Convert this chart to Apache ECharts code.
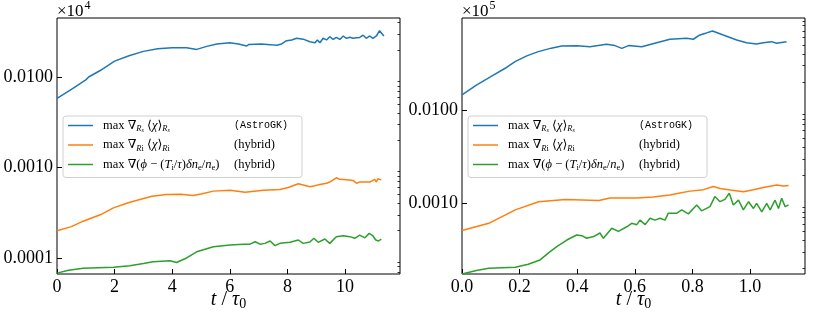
<!DOCTYPE html>
<html><head><meta charset="utf-8">
<script src="https://cdn.jsdelivr.net/npm/echarts@6/dist/echarts.min.js"></script>
<style>html,body{margin:0;padding:0;background:#fff}#c{width:830px;height:317px}</style>
</head><body><div id="c"></div>
<script>
// ---------------- data ----------------
const seriesNames = ['blue', 'orange', 'green'];
const leftXTicks = [0, 2, 4, 6, 8, 10];
const rightXTicks = [0, 0.2, 0.4, 0.6, 0.8, 1.0];
const leftYTicks = [0.0001, 0.001, 0.01];
const rightYTicks = [0.001, 0.01];
const leftYMinor = [0.00007, 0.00008, 0.00009, 0.0002, 0.0003, 0.0004, 0.0005, 0.0006, 0.0007, 0.0008, 0.0009, 0.002, 0.003, 0.004, 0.005, 0.006, 0.007, 0.008, 0.009, 0.02, 0.03, 0.04];
const rightYMinor = [0.0002, 0.0003, 0.0004, 0.0005, 0.0006, 0.0007, 0.0008, 0.0009, 0.002, 0.003, 0.004, 0.005, 0.006, 0.007, 0.008, 0.009, 0.02, 0.03, 0.04, 0.05, 0.06, 0.07, 0.08, 0.09];
const multLeft = '4';
const multRight = '5';

const leftBlue = [[0,0.0058],[0.5,0.0073],[1.0,0.0093],[1.1,0.0100],[1.5,0.0118],[2.0,0.0150],[2.5,0.0172],[3.0,0.0192],[3.5,0.0205],[4.0,0.0211],[4.5,0.0210],[4.85,0.0202],[5.2,0.0218],[5.55,0.0232],[6.0,0.0239],[6.3,0.0232],[6.59,0.0220],[6.66,0.0229],[7.1,0.0232],[7.4,0.0228],[7.63,0.0224],[7.8,0.0232],[7.97,0.0252],[8.15,0.0257],[8.32,0.0268],[8.55,0.0262],[8.78,0.0245],[8.96,0.0239],[9.04,0.0257],[9.13,0.0239],[9.24,0.0268],[9.36,0.0257],[9.47,0.0279],[9.59,0.0260],[9.7,0.0274],[9.82,0.0260],[9.94,0.0284],[10.05,0.0268],[10.17,0.0275],[10.28,0.0268],[10.4,0.0272],[10.51,0.0274],[10.63,0.0290],[10.74,0.0268],[10.86,0.0284],[10.97,0.0268],[11.09,0.0284],[11.2,0.0325],[11.26,0.0310],[11.35,0.0284]];
const leftOrange = [[0,0.000200],[0.5,0.000222],[0.91,0.000255],[1.5,0.000300],[1.96,0.000358],[2.5,0.000410],[2.88,0.000443],[3.3,0.000480],[3.81,0.000503],[4.3,0.000505],[4.73,0.000490],[5.0,0.000510],[5.43,0.000548],[6.01,0.000561],[6.53,0.000534],[7.16,0.000561],[7.74,0.000570],[8.03,0.000600],[8.38,0.000660],[8.55,0.000640],[8.78,0.000612],[8.96,0.000630],[9.13,0.000650],[9.36,0.000670],[9.47,0.000690],[9.7,0.000770],[9.82,0.000740],[10.05,0.000730],[10.28,0.000720],[10.4,0.000670],[10.5,0.000690],[10.86,0.000690],[11.03,0.000740],[11.09,0.000690],[11.14,0.000750],[11.26,0.000730]];
const leftGreen = [[0,0.000068],[0.4,0.000073],[0.91,0.000077],[1.96,0.000079],[2.53,0.000082],[3.0,0.000087],[3.34,0.000091],[3.92,0.000093],[4.15,0.000089],[4.5,0.000100],[4.85,0.000117],[5.43,0.000133],[6.01,0.000139],[6.47,0.000142],[6.7,0.000142],[6.88,0.000151],[7.05,0.000142],[7.22,0.000145],[7.4,0.000154],[7.57,0.000137],[7.74,0.000145],[8.09,0.000149],[8.38,0.000158],[8.55,0.000145],[8.78,0.000150],[8.92,0.000165],[9.07,0.000149],[9.3,0.000162],[9.47,0.000145],[9.7,0.000172],[9.94,0.000176],[10.17,0.000172],[10.34,0.000165],[10.51,0.000179],[10.69,0.000167],[10.84,0.000187],[10.96,0.000177],[11.07,0.000158],[11.16,0.000154],[11.26,0.000162]];

const rightBlue = [[0,0.0145],[0.05,0.0185],[0.103,0.0231],[0.15,0.0280],[0.184,0.0330],[0.225,0.0380],[0.265,0.0422],[0.31,0.0460],[0.346,0.0485],[0.4,0.0488],[0.444,0.0477],[0.502,0.0506],[0.531,0.0490],[0.555,0.0458],[0.578,0.0490],[0.624,0.0477],[0.676,0.0526],[0.722,0.0573],[0.78,0.0587],[0.803,0.0573],[0.826,0.0637],[0.849,0.0670],[0.87,0.0703],[0.907,0.0637],[0.954,0.0563],[0.988,0.0526],[1.023,0.0511],[1.046,0.0526],[1.075,0.0540],[1.092,0.0520],[1.127,0.0540]];
const rightOrange = [[0,0.00051],[0.093,0.00061],[0.185,0.00085],[0.266,0.00104],[0.359,0.00110],[0.475,0.00107],[0.514,0.00114],[0.606,0.00114],[0.664,0.00117],[0.722,0.00123],[0.752,0.00128],[0.792,0.00135],[0.838,0.00140],[0.873,0.00151],[0.896,0.00144],[0.931,0.00139],[0.977,0.00133],[1.012,0.00140],[1.046,0.00148],[1.093,0.00157],[1.116,0.00153],[1.134,0.00155]];
const rightGreen = [[0,0.000175],[0.05,0.000190],[0.093,0.000201],[0.185,0.000206],[0.23,0.000222],[0.271,0.000247],[0.306,0.000303],[0.329,0.000343],[0.364,0.000404],[0.398,0.000457],[0.416,0.000450],[0.433,0.000422],[0.457,0.000440],[0.479,0.000480],[0.491,0.000422],[0.52,0.000540],[0.543,0.000500],[0.572,0.000560],[0.589,0.000610],[0.607,0.000590],[0.618,0.000660],[0.636,0.000590],[0.653,0.000690],[0.67,0.000660],[0.688,0.000690],[0.705,0.000660],[0.716,0.000780],[0.722,0.000810],[0.745,0.000780],[0.763,0.000850],[0.786,0.000770],[0.815,0.000960],[0.832,0.000830],[0.861,0.000920],[0.878,0.001180],[0.896,0.001040],[0.913,0.001100],[0.928,0.001280],[0.942,0.000960],[0.96,0.001080],[0.977,0.000850],[0.995,0.001040],[1.012,0.000880],[1.023,0.001000],[1.041,0.000810],[1.058,0.001000],[1.07,0.000850],[1.087,0.001080],[1.099,0.000880],[1.11,0.001130],[1.122,0.000920],[1.134,0.000960]];

// ---------------- style ----------------
const SERIF = "'Liberation Serif', 'DejaVu Serif', serif";
const MONO = "'Liberation Mono', 'DejaVu Sans Mono', monospace";
const colors = {blue: '#1f77b4', orange: '#ff7f0e', green: '#2ca02c'};
const LFS = 12.5;

const richStyles = {
  m: {fontFamily: SERIF, fontSize: LFS, lineHeight: 16, color: '#000'},
  mi: {fontFamily: SERIF, fontSize: LFS, fontStyle: 'italic', lineHeight: 16, color: '#000'},
  s: {fontFamily: SERIF, fontSize: 8.5, fontStyle: 'italic', lineHeight: 7, verticalAlign: 'bottom', color: '#000'},
  su: {fontFamily: SERIF, fontSize: 8.5, lineHeight: 7, verticalAlign: 'bottom', color: '#000'},
  ss: {fontFamily: SERIF, fontSize: 6, fontStyle: 'italic', lineHeight: 4, verticalAlign: 'bottom', color: '#000'},
  mono: {fontFamily: MONO, fontSize: 10, lineHeight: 16, color: '#000'},
  sp: {width: 5, lineHeight: 16}
};
const tokenFont = (st) => {
  const r = richStyles[st];
  return (r.fontStyle === 'italic' ? 'italic ' : '') + r.fontSize + 'px ' + r.fontFamily;
};
const legendTokens = {
  blue: [['m','max ∇'],['s','R'],['ss','s'],['m',' ⟨'],['mi','χ'],['m','⟩'],['s','R'],['ss','s']],
  orange: [['m','max ∇'],['s','R'],['su','i'],['m',' ⟨'],['mi','χ'],['m','⟩'],['s','R'],['su','i']],
  green: [['m','max ∇('],['mi','ϕ'],['m',' − ('],['mi','T'],['su','i'],['m','/'],['mi','τ'],['m',')'],['mi','δn'],['su','e'],['m','/'],['mi','n'],['su','e'],['m',')']]
};
const legendTail = {blue: ['mono','(AstroGK)'], orange: ['m','(hybrid)'], green: ['m','(hybrid)']};
const COLX = 131;
const cv = document.createElement('canvas').getContext('2d');
const legendStr = {};
seriesNames.forEach((n, k) => {
  let w = 0, s = '{sp| }';
  legendTokens[n].forEach(([st, t]) => { cv.font = tokenFont(st); w += cv.measureText(t).width; s += '{' + st + '|' + t + '}'; });
  const padW = Math.max(4, COLX - w);
  richStyles['pad' + k] = {width: padW, lineHeight: 16};
  s += '{pad' + k + '| }';
  s += '{' + legendTail[n][0] + '|' + legendTail[n][1] + '}';
  legendStr[n] = s;
});

const GT = 18, GH = 256, GW = 343;
const grids = [{left: 57, top: GT, width: GW, height: GH}, {left: 462, top: GT, width: GW, height: GH}];
const xr = [{max: 11.91, ticks: leftXTicks, fmt: v => String(v)}, {max: 1.191, ticks: rightXTicks, fmt: v => v.toFixed(1)}];
const yr = [{min: 6.65e-5, max: 0.0449, ticks: leftYTicks, minor: leftYMinor}, {min: 1.746e-4, max: 0.0968, ticks: rightYTicks, minor: rightYMinor}];
const dataSets = [[leftBlue, leftOrange, leftGreen], [rightBlue, rightOrange, rightGreen]];

const option = {
  animation: false,
  backgroundColor: '#fff',
  grid: grids.map(g => Object.assign({show: true, borderColor: '#000', borderWidth: 1, backgroundColor: 'transparent', containLabel: false, outerBoundsMode: 'none'}, g)),
  xAxis: [0, 1].map(i => ({
    type: 'value', gridIndex: i, min: 0, max: xr[i].max,
    axisLine: {show: false}, splitLine: {show: false},
    axisTick: {inside: true, length: 5, lineStyle: {color: '#000', width: 1}, customValues: xr[i].ticks},
    axisLabel: {customValues: xr[i].ticks, formatter: xr[i].fmt, fontFamily: SERIF, fontSize: 18, color: '#000', margin: 4},
    name: '{i|t}{n| / }{i|τ}{s|0}', nameLocation: 'middle', nameGap: 15, nameMoveOverlap: false,
    nameTextStyle: {rich: {
      i: {fontFamily: SERIF, fontStyle: 'italic', fontSize: 20, color: '#000', lineHeight: 22},
      n: {fontFamily: SERIF, fontSize: 20, color: '#000', lineHeight: 22},
      s: {fontFamily: SERIF, fontSize: 14, color: '#000', lineHeight: 14, verticalAlign: 'bottom'}
    }}
  })),
  yAxis: [0, 1].flatMap(i => [{
    type: 'log', logBase: 10, gridIndex: i, min: yr[i].min, max: yr[i].max,
    axisLine: {show: false}, splitLine: {show: false},
    axisTick: {inside: true, length: 5, lineStyle: {color: '#000', width: 1}, customValues: yr[i].ticks},
    axisLabel: {customValues: yr[i].ticks, formatter: v => v.toFixed(4), fontFamily: SERIF, fontSize: 18, color: '#000', margin: 4}
  }, {
    type: 'log', logBase: 10, gridIndex: i, min: yr[i].min, max: yr[i].max,
    axisLine: {show: false}, splitLine: {show: false},
    axisTick: {inside: true, length: 2.5, lineStyle: {color: '#000', width: 0.8}, customValues: yr[i].minor},
    axisLabel: {show: false}
  }]),
  legend: [0, 1].map(i => ({
    left: grids[i].left + 6, top: 116, orient: 'vertical',
    data: seriesNames, icon: 'rect', itemWidth: 25, itemHeight: 1.5, itemGap: 5,
    padding: [3, 14, 5, 5],
    backgroundColor: 'rgba(255,255,255,0.85)', borderColor: '#d0d0d0', borderWidth: 1, borderRadius: 3,
    selectedMode: false,
    formatter: n => legendStr[n],
    textStyle: {rich: richStyles}
  })),
  series: [0, 1].flatMap(i => seriesNames.map((n, k) => ({
    name: n, type: 'line', xAxisIndex: i, yAxisIndex: 2 * i, data: dataSets[i][k],
    symbol: 'none', color: colors[n], lineStyle: {width: 1.5, color: colors[n]}
  }))),
  graphic: [0, 1].map(i => ({
    type: 'text', left: grids[i].left, top: 0,
    style: {
      text: '{a|×10}{b|' + (i === 0 ? multLeft : multRight) + '}',
      rich: {
        a: {fontFamily: SERIF, fontSize: 17, fill: '#000', lineHeight: 20, verticalAlign: 'bottom'},
        b: {fontFamily: SERIF, fontSize: 12, fill: '#000', lineHeight: 20, verticalAlign: 'top', padding: [0, 0, 0, 1]}
      }
    }
  }))
};
const chart = echarts.init(document.getElementById('c'), null, {renderer: 'canvas'});
chart.setOption(option);
</script></body></html>
